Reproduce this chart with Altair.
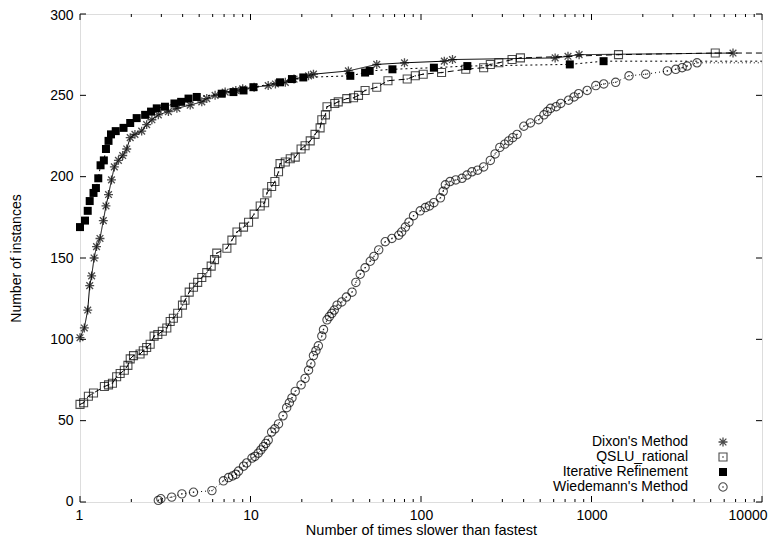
import altair as alt
import pandas as pd

# ---------------- data ----------------
series_names = ["Dixon's Method", "QSLU_rational", "Iterative Refinement", "Wiedemann's Method"]

dixon_x = [1.0, 1.06, 1.11, 1.14, 1.17, 1.21, 1.25, 1.31, 1.37, 1.42, 1.47, 1.53, 1.59, 1.68, 1.78,
           1.88, 1.97, 2.10, 2.30, 2.46, 2.64, 2.88, 3.30, 3.70, 4.43, 5.18, 5.54, 6.2, 7.1, 8.2,
           9.0, 10.5, 12.7, 14, 16, 18, 21.9, 23.4, 37.5, 55, 80, 137, 153, 612, 728, 846, 6760]
dixon_y = [101, 107, 118, 133, 139, 150, 157, 162, 173, 182, 189, 198, 206, 210, 213,
           217, 224, 226, 228, 232, 235, 238, 240, 242, 244, 246, 248, 250, 252, 253,
           254, 255, 256, 257, 258, 260, 262, 263, 265, 269, 270, 271, 272, 273, 274, 275, 276]

qslu_x = [1, 1.05, 1.12, 1.2, 1.39, 1.47, 1.55, 1.64, 1.72, 1.82, 1.91, 1.97, 2.06, 2.25, 2.35,
          2.46, 2.58, 2.72, 2.86, 3.04, 3.23, 3.38, 3.53, 3.74, 3.99, 4.13, 4.37, 4.63, 4.9, 5.18,
          5.54, 5.88, 6.15, 6.34, 7.27, 7.78, 8.33, 9.1, 9.74, 10.5, 11.4, 12.1, 12.5, 13.3, 13.9,
          14.6, 14.9, 16, 17.1, 18.3, 19.8, 20.9, 22.4, 23.9, 25.6, 26.2, 27.5, 28.1, 31.2, 32.7,
          36.7, 40.2, 43, 47, 55, 64, 83, 92.6, 103, 132, 183, 233, 255, 286, 342, 383, 1440, 5320]
qslu_y = [60, 61, 65, 67, 71, 72, 73, 77, 79, 81, 84, 88, 90, 91, 93,
          95, 97, 102, 103, 105, 107, 111, 113, 116, 121, 124, 129, 132, 135, 138,
          141, 145, 149, 153, 156, 161, 166, 169, 172, 177, 182, 184, 190, 194, 197,
          203, 208, 209, 211, 212, 217, 219, 222, 226, 230, 235, 238, 243, 245, 246,
          248, 248.5, 250, 253, 255, 259, 260, 262, 263, 264, 266, 267, 269, 270, 272, 273, 275, 276]

iter_x = [1.0, 1.07, 1.11, 1.14, 1.20, 1.24, 1.28, 1.32, 1.38, 1.42, 1.47, 1.52, 1.62, 1.80, 1.97,
          2.15, 2.41, 2.61, 2.82, 3.15, 3.58, 3.92, 4.33, 4.84, 6.78, 7.94, 9.1, 10.4, 14.9, 17.5,
          20.4, 38.5, 47, 50, 68, 119, 187, 746, 1177]
iter_y = [169, 173, 179, 185, 190, 193, 199, 207, 210, 217, 222, 226, 228, 230, 233,
          236, 238, 240, 242, 243, 245, 246, 248, 249, 251, 252, 253, 255, 258, 260,
          261, 262, 264, 265, 266, 267, 268, 269, 271]

wied_x = [2.88, 2.98, 3.45, 3.96, 4.63, 5.94, 6.94, 7.43, 7.85, 8.2, 8.51, 9.1, 9.5, 10.2, 10.6,
          11.1, 11.5, 11.9, 12.3, 12.7, 13.3, 13.9, 14.6, 15.5, 16.3, 16.9, 17.5, 18.3, 19.8, 20.9,
          21.9, 22.6, 23.4, 24.2, 25, 26.2, 26.8, 28.1, 29, 30, 31, 32.2, 34.3, 36.5, 39.4,
          41.5, 44, 47, 50.4, 53, 56.5, 61.7, 67.5, 74, 77, 81, 85, 90.4, 99, 106,
          112, 119, 130, 135, 139, 148, 160, 174, 186, 199, 215, 233, 255, 272, 290,
          310, 327, 345, 366, 401, 438, 490, 526, 550, 575, 620, 660, 734, 790, 840,
          943, 1060, 1180, 1385, 1660, 2080, 2785, 3120, 3400, 3640, 4160]
wied_y = [1, 2, 3, 5, 6, 7, 13, 15, 16, 17, 19, 22, 24, 27, 28,
          30, 32, 34, 36, 38, 43, 45, 48, 53, 58, 61, 64, 68, 72, 76,
          81, 85, 90, 93, 96, 102, 106, 112, 114, 116, 118, 121, 123, 126, 129,
          135, 140, 144, 148, 151, 155, 160, 162, 164, 166, 169, 172, 176, 179, 181,
          182, 184, 187, 191, 195, 197, 198, 199, 201, 203, 204, 206, 210, 214, 218,
          220, 222, 224, 226, 231, 233, 235, 238, 240, 242, 243, 245, 247, 249, 251,
          253, 256, 257, 258, 262, 263, 265, 266, 267, 268, 270]

x_major = [1, 10, 100, 1000, 10000]
x_minor = [m * d for d in [1, 10, 100, 1000] for m in range(2, 10)]
y_major = [0, 50, 100, 150, 200, 250, 300]
x_max = 10000

# ---------------- layout / style ----------------
W, H = 682, 488
FONT = "Liberation Sans"
ASTERISK = "M-1,0L1,0M0,-1L0,1M-0.75,-0.75L0.75,0.75M-0.75,0.75L0.75,-0.75"

xscale = alt.Scale(type="log", domain=[1, 10000], nice=False)
yscale = alt.Scale(domain=[0, 300], nice=False, zero=False)
xaxis = alt.Axis(values=x_major, format="d", ticks=False, tickSize=0, domain=False, grid=False,
                 labelFont=FONT, labelFontSize=14, labelColor="black", labelPadding=6,
                 labelFlush=True, labelFlushOffset=5,
                 title="Number of times slower than fastest", titleFont=FONT,
                 titleFontSize=14.5, titleFontWeight="normal", titleColor="black",
                 titlePadding=1)
yaxis = alt.Axis(values=y_major, ticks=False, tickSize=0, domain=False, grid=False,
                 labelFont=FONT, labelFontSize=14, labelColor="black", labelPadding=7,
                 labelFlush=True, labelFlushOffset=6,
                 title="Number of instances", titleFont=FONT, titleFontSize=14,
                 titleFontWeight="normal", titleColor="black", titlePadding=26)

xenc = alt.X("x:Q", scale=xscale, axis=xaxis)
yenc = alt.Y("y:Q", scale=yscale, axis=yaxis)


def df(xs, ys):
    return pd.DataFrame({"x": xs, "y": ys, "i": list(range(len(xs)))})


layers = []

# inward ticks (gnuplot style, mirrored)
tx_major = pd.DataFrame({"x": x_major})
tx_minor = pd.DataFrame({"x": x_minor})
ty_major = pd.DataFrame({"y": y_major})
for d, ln in [(tx_major, 6), (tx_minor, 3)]:
    layers.append(alt.Chart(d).mark_rule(color="black", strokeWidth=1).encode(
        x=xenc, y=alt.value(H), y2=alt.value(H - ln)))
    layers.append(alt.Chart(d).mark_rule(color="black", strokeWidth=1).encode(
        x=xenc, y=alt.value(0), y2=alt.value(ln)))
layers.append(alt.Chart(ty_major).mark_rule(color="black", strokeWidth=1).encode(
    y=yenc, x=alt.value(0), x2=alt.value(6)))
layers.append(alt.Chart(ty_major).mark_rule(color="black", strokeWidth=1).encode(
    y=yenc, x=alt.value(W), x2=alt.value(W - 6)))

# series
specs = [
    # xs, ys, dash, extend line, point kwargs, center dot
    (dixon_x, dixon_y, [1, 0], False, dict(shape=ASTERISK, size=80, filled=False, strokeWidth=1.3), False),
    (qslu_x, qslu_y, [6, 4], True, dict(shape="square", size=64, filled=False, strokeWidth=1.1), True),
    (iter_x, iter_y, [2, 3], True, dict(shape="square", size=64, filled=True, opacity=1), False),
    (wied_x, wied_y, [1, 3], True, dict(shape="circle", size=70, filled=False, strokeWidth=1.1), True),
]
for xs, ys, dash, ext, pk, dot in specs:
    lx = list(xs) + ([x_max] if ext else [])
    ly = list(ys) + ([ys[-1]] if ext else [])
    layers.append(alt.Chart(df(lx, ly)).mark_line(
        color="black", strokeWidth=1, strokeDash=dash).encode(
        x=xenc, y=yenc, order=alt.Order("i:Q")))
    layers.append(alt.Chart(df(xs, ys)).mark_point(color="black", **pk).encode(x=xenc, y=yenc))
    if dot:
        layers.append(alt.Chart(df(xs, ys)).mark_point(
            color="black", shape="square", size=2, filled=True).encode(x=xenc, y=yenc))

# legend (gnuplot style: label then symbol, bottom right inside)
leg_rows = [428, 443, 458, 473]
leg_text_x = 608
leg_sym_x = 643
leg_pk = [s[4] for s in specs]
leg_dot = [s[5] for s in specs]
one = pd.DataFrame({"a": [0]})
for name, ry, pk, dot in zip(series_names, leg_rows, leg_pk, leg_dot):
    layers.append(alt.Chart(one).mark_text(
        align="right", baseline="middle", font=FONT, fontSize=14, color="black", text=name
    ).encode(x=alt.value(leg_text_x), y=alt.value(ry)))
    layers.append(alt.Chart(one).mark_point(color="black", **pk).encode(
        x=alt.value(leg_sym_x), y=alt.value(ry)))
    if dot:
        layers.append(alt.Chart(one).mark_point(
            color="black", shape="square", size=2, filled=True).encode(
            x=alt.value(leg_sym_x), y=alt.value(ry)))

chart = alt.layer(*layers).properties(
    width=W, height=H,
    autosize=alt.AutoSizeParams(type="none"),
    padding={"left": 72, "top": 6, "right": 14, "bottom": 38},
).configure_view(stroke="black", strokeWidth=1.2).configure(background="white")

chart.save("out.html", embed_options={"renderer": "svg", "actions": False})
